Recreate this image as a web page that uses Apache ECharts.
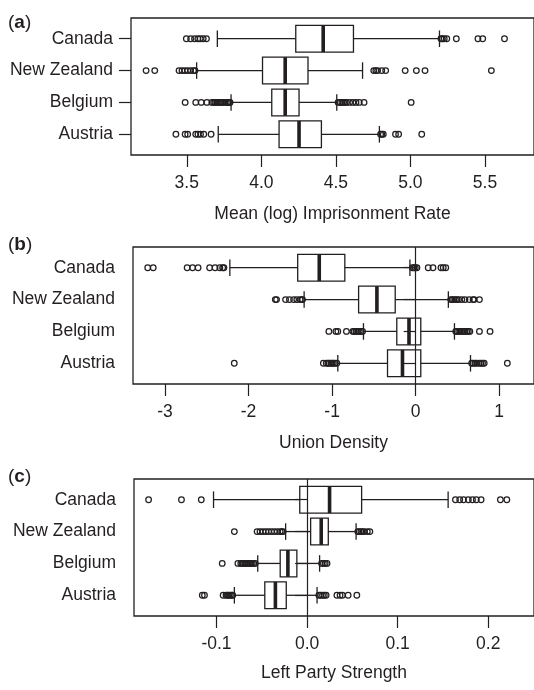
<!DOCTYPE html>
<html>
<head>
<meta charset="utf-8">
<script src="https://cdn.jsdelivr.net/npm/echarts@6/dist/echarts.min.js"></script>
<style>
html,body{margin:0;padding:0;background:#fff;}
#main{width:534px;height:690px;}
</style>
</head>
<body>
<div id="main"></div>
<script>
// ---------- data ----------
const countries = ['Canada', 'New Zealand', 'Belgium', 'Austria'];

// [lower whisker, Q1, median, Q3, upper whisker] per country
const imprisonBox = [
  [3.705, 4.231, 4.415, 4.618, 5.195],
  [3.566, 4.008, 4.160, 4.313, 4.679],
  [3.797, 4.070, 4.160, 4.253, 4.506],
  [3.711, 4.119, 4.253, 4.403, 4.792]
];
const imprisonOutliers = [
  [3.497, 3.526, 3.552, 3.574, 3.590, 3.610, 3.632, 5.205, 5.215, 5.227, 5.244, 5.308, 5.453, 5.485, 5.631],
  [3.227, 3.285, 3.448, 3.468, 3.487, 3.506, 3.526, 3.545, 3.555, 4.754, 4.768, 4.780, 4.808, 4.834, 4.965, 5.040, 5.098, 5.543],
  [3.489, 3.560, 3.597, 3.635, 3.668, 3.680, 3.689, 3.700, 3.711, 3.720, 3.732, 3.740, 3.754, 3.765, 3.775, 3.785, 3.790,
   4.515, 4.528, 4.540, 4.550, 4.561, 4.571, 4.592, 4.614, 4.635, 4.657, 4.689, 5.005],
  [3.427, 3.489, 3.506, 3.560, 3.575, 3.592, 3.614, 3.663, 4.800, 4.808, 4.818, 4.900, 4.921, 5.076]
];

const unionBox = [
  [-2.224, -1.412, -1.154, -0.848, -0.069],
  [-1.335, -0.683, -0.464, -0.245, 0.391],
  [-0.625, -0.226, -0.080, 0.061, 0.464],
  [-0.932, -0.337, -0.158, 0.061, 0.656]
];
const unionOutliers = [
  [-3.207, -3.141, -2.735, -2.670, -2.604, -2.466, -2.401, -2.344, -2.310, -2.295, -0.040, -0.023, -0.005, 0.015, 0.150, 0.207, 0.303, 0.330, 0.360],
  [-1.680, -1.665, -1.557, -1.511, -1.461, -1.423, -1.384, -1.365, -1.354, 0.420, 0.437, 0.455, 0.475, 0.495, 0.514, 0.552, 0.590, 0.641, 0.687, 0.700, 0.763],
  [-1.039, -0.955, -0.932, -0.829, -0.752, -0.735, -0.713, -0.695, -0.675, -0.655, -0.636,
   0.480, 0.495, 0.515, 0.533, 0.552, 0.572, 0.590, 0.610, 0.630, 0.648, 0.763, 0.890],
  [-2.171, -1.105, -1.070, -1.050, -1.036, -1.015, -1.001, -0.985, -0.967, -0.944, 0.670, 0.687, 0.710, 0.730, 0.760, 0.780, 0.800, 0.820, 1.097]
];

const leftBox = [
  [-0.1033, -0.0081, 0.0248, 0.0602, 0.1557],
  [-0.0237, 0.0039, 0.0156, 0.0234, 0.0541],
  [-0.0545, -0.0297, -0.0212, -0.0113, 0.0138],
  [-0.0803, -0.0467, -0.0350, -0.0230, 0.0110]
];
const leftOutliers = [
  [-0.1750, -0.1387, -0.1168, 0.1638, 0.1685, 0.1727, 0.1780, 0.1826, 0.1868, 0.1921, 0.2134, 0.2205],
  [-0.0803, -0.0552, -0.0520, -0.0488, -0.0456, -0.0425, -0.0393, -0.0361, -0.0329, -0.0297, -0.0280, -0.0265,
   0.0560, 0.0575, 0.0594, 0.0612, 0.0630, 0.0665, 0.0693],
  [-0.0937, -0.0764, -0.0732, -0.0715, -0.0701, -0.0685, -0.0669, -0.0653, -0.0637, -0.0621, -0.0605, -0.0589, -0.0573,
   0.0160, 0.0180, 0.0200, 0.0220],
  [-0.1157, -0.1133, -0.0927, -0.0895, -0.0880, -0.0864, -0.0848, -0.0832, -0.0821,
   0.0130, 0.0150, 0.0170, 0.0190, 0.0210, 0.0329, 0.0364, 0.0390, 0.0453, 0.0549]
];

const ticksA = [3.5, 4.0, 4.5, 5.0, 5.5];
const ticksB = [-3, -2, -1, 0, 1];
const ticksC = [-0.1, 0.0, 0.1, 0.2];
const titles = ['Mean (log) Imprisonment Rate', 'Union Density', 'Left Party Strength'];
const panelLetters = ['a', 'b', 'c'];

// ---------- chart ----------
const INK = '#231f20';
const FONT = 'Liberation Sans, Arial, Helvetica, sans-serif';
const FS = 17.5;

const panels = [
  {box: imprisonBox, out: imprisonOutliers, ticks: ticksA, dec: 1, zero: false,
   grid: {left: 131, top: 18, width: 419, height: 137}, min: 3.1258, max: 5.829, nameGap: 50},
  {box: unionBox, out: unionOutliers, ticks: ticksB, dec: 0, zero: true,
   grid: {left: 133, top: 247, width: 417, height: 137}, min: -3.383, max: 1.416, nameGap: 50},
  {box: leftBox, out: leftOutliers, ticks: ticksC, dec: 1, zero: true,
   grid: {left: 134, top: 479, width: 416, height: 137}, min: -0.1911, max: 0.2505, nameGap: 48}
];

function renderBox(params, api) {
  const y = api.value(0);
  const lo = api.coord([api.value(1), y]);
  const q1 = api.coord([api.value(2), y]);
  const md = api.coord([api.value(3), y]);
  const q3 = api.coord([api.value(4), y]);
  const hi = api.coord([api.value(5), y]);
  const half = Math.abs(api.size([0, 0.42])[1]);
  const cap = Math.abs(api.size([0, 0.26])[1]);
  const cy = md[1];
  const ls = {stroke: INK, lineWidth: 1.3, fill: null};
  return {
    type: 'group',
    children: [
      {type: 'line', shape: {x1: lo[0], y1: cy, x2: q1[0], y2: cy}, style: ls},
      {type: 'line', shape: {x1: q3[0], y1: cy, x2: hi[0], y2: cy}, style: ls},
      {type: 'line', shape: {x1: lo[0], y1: cy - cap, x2: lo[0], y2: cy + cap}, style: ls},
      {type: 'line', shape: {x1: hi[0], y1: cy - cap, x2: hi[0], y2: cy + cap}, style: ls},
      {type: 'rect', shape: {x: q1[0], y: cy - half, width: q3[0] - q1[0], height: 2 * half},
       style: {fill: 'rgba(0,0,0,0)', stroke: INK, lineWidth: 1.3}},
      {type: 'line', shape: {x1: md[0], y1: cy - half, x2: md[0], y2: cy + half},
       style: {stroke: INK, lineWidth: 3.6}}
    ]
  };
}

const option = {
  animation: false,
  backgroundColor: '#fff',
  textStyle: {fontFamily: FONT},
  grid: [], xAxis: [], yAxis: [], series: [],
  graphic: []
};

const labelTops = [13, 235, 467];

panels.forEach((p, gi) => {
  option.grid.push(Object.assign({show: true, borderColor: INK, borderWidth: 1.3,
    backgroundColor: 'rgba(0,0,0,0)', containLabel: false}, p.grid));
  option.xAxis.push({
    type: 'value', gridIndex: gi, min: p.min, max: p.max,
    name: titles[gi], nameLocation: 'middle', nameGap: p.nameGap,
    nameTextStyle: {fontSize: FS, color: INK, fontFamily: FONT},
    axisLine: {show: false},
    splitLine: {show: false},
    axisTick: {show: true, length: 12, customValues: p.ticks, lineStyle: {color: INK, width: 1.2}},
    axisLabel: {show: true, margin: 19, fontSize: FS, color: INK, fontFamily: FONT,
      customValues: p.ticks, formatter: v => Number(v).toFixed(p.dec)}
  });
  option.yAxis.push({
    type: 'value', gridIndex: gi, min: 0.35, max: 4.65, inverse: true,
    axisLine: {show: false},
    splitLine: {show: false},
    axisTick: {show: true, length: 12, customValues: [1, 2, 3, 4], lineStyle: {color: INK, width: 1.2}},
    axisLabel: {show: true, margin: 18, fontSize: FS, color: INK, fontFamily: FONT,
      customValues: [1, 2, 3, 4], formatter: v => countries[Math.round(v) - 1] || ''}
  });
  option.series.push({
    type: 'custom', xAxisIndex: gi, yAxisIndex: gi, z: 2,
    renderItem: renderBox,
    encode: {x: [1, 2, 3, 4, 5], y: 0},
    data: p.box.map((s, i) => [i + 1].concat(s))
  });
  const pts = [];
  p.out.forEach((arr, i) => arr.forEach(v => pts.push([v, i + 1])));
  const sc = {
    type: 'scatter', xAxisIndex: gi, yAxisIndex: gi, z: 3,
    symbol: 'circle', symbolSize: 5.6,
    itemStyle: {color: 'rgba(0,0,0,0)', borderColor: INK, borderWidth: 1.25, opacity: 1},
    emphasis: {disabled: true},
    data: pts
  };
  if (p.zero) {
    sc.markLine = {silent: true, symbol: ['none', 'none'], label: {show: false},
      lineStyle: {color: INK, width: 1.2, type: 'solid'}, data: [{xAxis: 0}]};
  }
  option.series.push(sc);
  option.graphic.push({
    type: 'text', left: 8, top: labelTops[gi],
    style: {
      text: '{n|(}{b|' + panelLetters[gi] + '}{n|)}',
      rich: {
        n: {fontSize: 19, fontFamily: FONT, fill: INK},
        b: {fontSize: 19, fontFamily: FONT, fontWeight: 'bold', fill: INK}
      }
    }
  });
});

const chart = echarts.init(document.getElementById('main'));
chart.setOption(option);
</script>
</body>
</html>
